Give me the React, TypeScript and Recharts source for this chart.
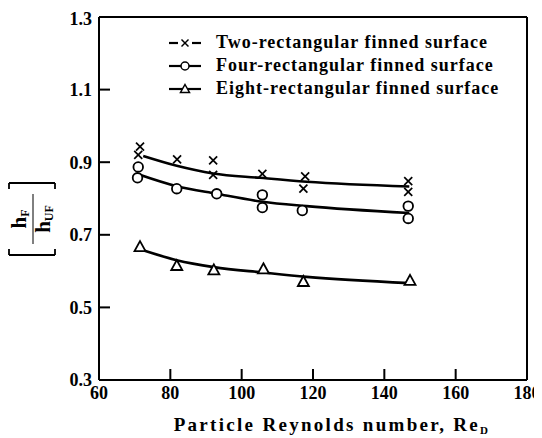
import React from "react";
import { ComposedChart, Line, Scatter, XAxis, YAxis, ReferenceLine } from "recharts";

const xTicks = [60, 80, 100, 120, 140, 160, 180];
const yTicks = [0.3, 0.5, 0.7, 0.9, 1.1, 1.3];

const seriesNames = [
  "Two-rectangular finned surface",
  "Four-rectangular finned surface",
  "Eight-rectangular finned surface",
];

const twoX = [71.5, 71.0, 81.9, 92.0, 92.0, 105.8, 117.8, 117.3, 146.7, 146.7];
const twoY = [0.943, 0.92, 0.908, 0.905, 0.865, 0.868, 0.861, 0.827, 0.848, 0.818];
const fourX = [71.0, 70.8, 81.8, 93.0, 105.8, 105.8, 117.0, 146.7, 146.7];
const fourY = [0.887, 0.857, 0.827, 0.813, 0.81, 0.775, 0.767, 0.779, 0.745];
const eightX = [71.5, 81.8, 92.2, 106.1, 117.3, 147.2];
const eightY = [0.666, 0.614, 0.602, 0.605, 0.57, 0.573];

const twoFitX = [72.4, 81.8, 92, 105.1, 118.2, 147];
const twoFitY = [0.917, 0.89, 0.869, 0.857, 0.846, 0.833];
const fourFitX = [71, 81.8, 93, 105.8, 118.2, 147];
const fourFitY = [0.867, 0.834, 0.813, 0.791, 0.779, 0.76];
const eightFitX = [71.5, 81.8, 92.2, 106.1, 118.2, 147];
const eightFitY = [0.66, 0.63, 0.611, 0.596, 0.584, 0.567];

const zip = (xs: number[], ys: number[]) => xs.map((x, i) => ({ x, y: ys[i] }));

const FONT = "'Liberation Serif', 'Times New Roman', serif";
const X0 = 60;
const X1 = 180;
const Y0 = 0.3;
const Y1 = 1.3;

const xTickMarks = xTicks.slice(1, -1).map((v) => ({ x: v, y: Y0 }));
const yTickMarks = yTicks.slice(1, -1).map((v) => ({ x: X0, y: v }));

const XTickMark = (p: any) => {
  const cx = Number(p.cx);
  const cy = Number(p.cy);
  return <rect x={cx - 1} y={cy - 11} width={2} height={11} fill="#000" />;
};
const YTickMark = (p: any) => {
  const cx = Number(p.cx);
  const cy = Number(p.cy);
  return <rect x={cx} y={cy - 1} width={11} height={2} fill="#000" />;
};

const CrossShape = (p: any) => {
  const cx = Number(p.cx);
  const cy = Number(p.cy);
  const s = 4;
  return (
    <g stroke="#000" strokeWidth={1.7}>
      <line x1={cx - s} y1={cy - s} x2={cx + s} y2={cy + s} />
      <line x1={cx - s} y1={cy + s} x2={cx + s} y2={cy - s} />
    </g>
  );
};
const CircleShape = (p: any) => (
  <circle cx={p.cx} cy={p.cy} r={4.8} fill="#fff" stroke="#000" strokeWidth={1.8} />
);
const TriShape = (p: any) => {
  const cx = Number(p.cx);
  const cy = Number(p.cy);
  return (
    <path
      d={`M${cx},${cy - 6} L${cx + 5.5},${cy + 4} L${cx - 5.5},${cy + 4} Z`}
      fill="#fff"
      stroke="#000"
      strokeWidth={1.8}
    />
  );
};

const tickStyle = { fontFamily: FONT, fontWeight: 700, fontSize: 18, fill: "#000" };

const XTitle = () => (
  <text x={324} y={423} textAnchor="middle" fontFamily={FONT} fontWeight="bold" fontSize={19} letterSpacing={2.3} fill="#000">
    Particle Reynolds number, Re
    <tspan fontSize={11} dy={3}>D</tspan>
  </text>
);

const YTitle = () => {
  const cx = 24;
  const cy = 211;
  return (
    <g transform={`translate(${cx},${cy}) rotate(-90)`} fontFamily={FONT} fontWeight="bold" fill="#000">
      <path d="M-36,-23 L-36,23 M-36,-23 L-30,-23 M-36,23 L-30,23" stroke="#000" strokeWidth={1.8} fill="none" />
      <path d="M36,-23 L36,23 M36,-23 L30,-23 M36,23 L30,23" stroke="#000" strokeWidth={1.8} fill="none" />
      <text x={0} y={-6} textAnchor="middle" fontSize={21}>
        h<tspan fontSize={12} dy={3}>F</tspan>
      </text>
      <line x1={-25} x2={25} y1={1} y2={1} stroke="#000" strokeWidth={1} />
      <text x={0} y={18} textAnchor="middle" fontSize={21}>
        h<tspan fontSize={12} dy={3}>UF</tspan>
      </text>
    </g>
  );
};

const legendShapes = ["x", "o", "t"];

const LegendSymbol = ({ kind }: { kind: string }) => (
  <svg width={34} height={14} style={{ display: "block" }}>
    {kind === "x" ? (
      <g stroke="#000" strokeWidth={2.2}>
        <line x1={1} x2={10} y1={7} y2={7} />
        <line x1={24} x2={33} y1={7} y2={7} />
        <g strokeWidth={1.5}>
          <line x1={13.5} y1={3.5} x2={20.5} y2={10.5} />
          <line x1={13.5} y1={10.5} x2={20.5} y2={3.5} />
        </g>
      </g>
    ) : (
      <g>
        <line x1={1} x2={33} y1={7} y2={7} stroke="#000" strokeWidth={2.2} />
        {kind === "o" ? (
          <circle cx={17} cy={7} r={4} fill="#fff" stroke="#000" strokeWidth={1.5} />
        ) : (
          <path d="M17,2.5 L21.5,10.5 L12.5,10.5 Z" fill="#fff" stroke="#000" strokeWidth={1.5} />
        )}
      </g>
    )}
  </svg>
);

export default function App() {
  return (
    <div style={{ position: "relative", width: 534, height: 430 }}>
      <ComposedChart
        width={534}
        height={430}
        margin={{ top: 9, right: 15, left: 31, bottom: 28 }}
        style={{ fontFamily: FONT, fontWeight: 700, fontSize: 18 }}
      >
        <XAxis
          type="number"
          dataKey="x"
          domain={[X0, X1]}
          ticks={xTicks}
          tickLine={false}
          tickSize={0}
          tickMargin={6}
          axisLine={false}
          tick={tickStyle}
          height={30}
          allowDataOverflow
        />
        <YAxis
          type="number"
          dataKey="y"
          domain={[Y0, Y1]}
          ticks={yTicks}
          tickLine={false}
          tickSize={0}
          tickMargin={7}
          axisLine={false}
          tick={tickStyle}
          tickFormatter={(v: number) => v.toFixed(1)}
          width={60}
          allowDataOverflow
        />
        <ReferenceLine x={X0} stroke="#000" strokeWidth={2} ifOverflow="visible" />
        <ReferenceLine x={X1} stroke="#000" strokeWidth={2} ifOverflow="visible" />
        <ReferenceLine y={Y0} stroke="#000" strokeWidth={2} ifOverflow="visible" />
        <ReferenceLine y={Y1} stroke="#000" strokeWidth={2} ifOverflow="visible" />
        <Scatter data={xTickMarks} dataKey="y" shape={<XTickMark />} isAnimationActive={false} />
        <Scatter data={yTickMarks} dataKey="y" shape={<YTickMark />} isAnimationActive={false} />
        <Line data={zip(twoFitX, twoFitY)} dataKey="y" type="monotone" stroke="#000" strokeWidth={2.6} dot={false} isAnimationActive={false} />
        <Line data={zip(fourFitX, fourFitY)} dataKey="y" type="monotone" stroke="#000" strokeWidth={2.6} dot={false} isAnimationActive={false} />
        <Line data={zip(eightFitX, eightFitY)} dataKey="y" type="monotone" stroke="#000" strokeWidth={2.6} dot={false} isAnimationActive={false} />
        <Scatter data={zip(twoX, twoY)} dataKey="y" shape={<CrossShape />} isAnimationActive={false} />
        <Scatter data={zip(fourX, fourY)} dataKey="y" shape={<CircleShape />} isAnimationActive={false} />
        <Scatter data={zip(eightX, eightY)} dataKey="y" shape={<TriShape />} isAnimationActive={false} />
        <XTitle />
        <YTitle />
      </ComposedChart>
      <div style={{ position: "absolute", left: 160, top: 23, fontFamily: FONT, fontWeight: "bold", fontSize: 18, letterSpacing: 1.0 }}>
        {seriesNames.map((n, i) => (
          <div key={n} style={{ display: "flex", alignItems: "center", height: 23 }}>
            <LegendSymbol kind={legendShapes[i]} />
            <span style={{ marginLeft: 14 }}>{n}</span>
          </div>
        ))}
      </div>
    </div>
  );
}
